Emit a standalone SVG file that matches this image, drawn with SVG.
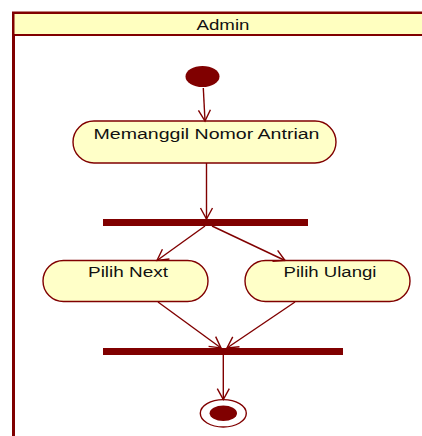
<svg xmlns="http://www.w3.org/2000/svg" width="422" height="436" viewBox="0 0 422 436">
<style>
.lane{fill:#FFFFFF;stroke:#800000;stroke-width:3}
.hdr{fill:#FFFFC0;stroke:#800000;stroke-width:2}
.act{fill:#FFFFC8;stroke:#800000;stroke-width:1.4}
.bar{fill:#800000}
.dot{fill:#800000}
.edge{fill:none;stroke:#800000;stroke-width:1.4}
.t{font-family:"Liberation Sans","DejaVu Sans",sans-serif;font-size:14px;fill:#111111;text-anchor:middle}
</style>
<defs>
<marker id="arr" viewBox="-12 -8 14 16" refX="0" refY="0" markerWidth="14" markerHeight="16" markerUnits="userSpaceOnUse" orient="auto">
<path d="M-11,-6 L0,0 L-11,6" fill="none" stroke="#800000" stroke-width="1.4"/>
</marker>
</defs>
<g id="swimlane">
<rect class="lane" x="13.5" y="13" width="420" height="430"/>
<rect class="hdr" x="13.5" y="13" width="420" height="22"/>
<text class="t" x="223" y="29.5" textLength="53" lengthAdjust="spacingAndGlyphs">Admin</text>
</g>
<g id="start">
<ellipse class="dot" cx="202.5" cy="76.5" rx="17" ry="10.5"/>
</g>
<g id="act1">
<rect class="act" x="73" y="121" width="263" height="42" rx="21" ry="21"/>
<text class="t" x="206.5" y="138.5" textLength="226" lengthAdjust="spacingAndGlyphs">Memanggil Nomor Antrian</text>
</g>
<g id="fork">
<rect class="bar" x="103" y="219" width="205" height="7"/>
</g>
<g id="act2">
<rect class="act" x="43" y="260.5" width="165" height="41" rx="20.5" ry="20.5"/>
<text class="t" x="128" y="277" textLength="80" lengthAdjust="spacingAndGlyphs">Pilih Next</text>
</g>
<g id="act3">
<rect class="act" x="245" y="260.5" width="165" height="41" rx="20.5" ry="20.5"/>
<text class="t" x="330" y="277" textLength="93" lengthAdjust="spacingAndGlyphs">Pilih Ulangi</text>
</g>
<g id="join">
<rect class="bar" x="103" y="348" width="240" height="7"/>
</g>
<g id="end">
<ellipse cx="223.3" cy="413.3" rx="23" ry="13.7" fill="#FFFFFF" stroke="#800000" stroke-width="1.4"/>
<ellipse class="dot" cx="223.3" cy="413.3" rx="13.7" ry="7.7"/>
</g>
<g id="connectors">
<line class="edge" x1="203.3" y1="88" x2="205" y2="121" marker-end="url(#arr)"/>
<line class="edge" x1="206.5" y1="163" x2="206.5" y2="219" marker-end="url(#arr)"/>
<line class="edge" x1="205" y1="226" x2="157" y2="260.5" marker-end="url(#arr)"/>
<line class="edge" x1="212" y1="226" x2="285" y2="260.5" marker-end="url(#arr)"/>
<line class="edge" x1="158" y1="302" x2="221" y2="348" marker-end="url(#arr)"/>
<line class="edge" x1="295" y1="302" x2="227" y2="348" marker-end="url(#arr)"/>
<line class="edge" x1="223.3" y1="355" x2="223.3" y2="399.6" marker-end="url(#arr)"/>
</g>
</svg>
